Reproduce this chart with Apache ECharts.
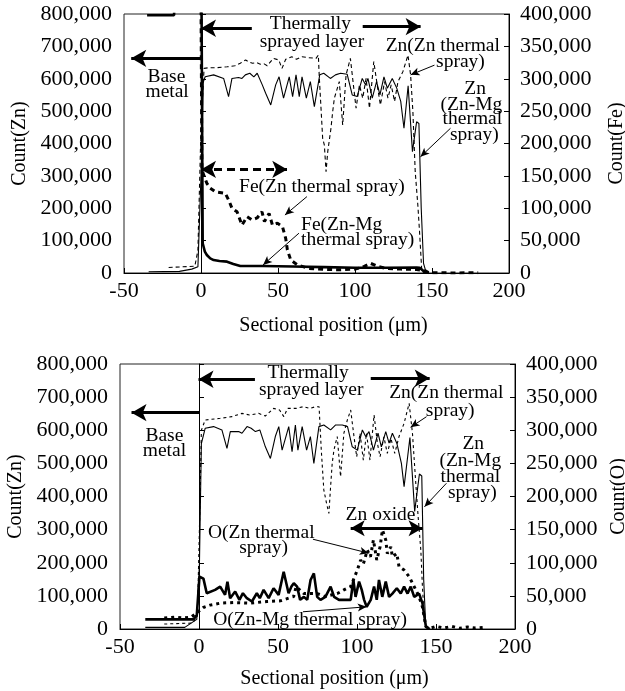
<!DOCTYPE html>
<html><head><meta charset="utf-8">
<script src="https://cdn.jsdelivr.net/npm/echarts@6/dist/echarts.min.js"></script>
<style>html,body{margin:0;padding:0;background:#fff}#c{width:625px;height:691px}</style>
</head><body><div id="c"></div>
<script>
// ---------- tick labels ----------
const xTickLabels = ['-50','0','50','100','150','200'];
const znTickLabels = ['0','100,000','200,000','300,000','400,000','500,000','600,000','700,000','800,000'];
const rightTickLabels = ['0','50,000','100,000','150,000','200,000','250,000','300,000','350,000','400,000'];

// ---------- top chart (Zn / Fe) ----------
const znZnTop = [[-21,17000],[-4,21000],[-2,70000],[0,450000],[2,632000],[5,634000],[10,634000],[17,637000],[22,640000],[25.5,648000],[29,658000],[31,652000],[33.5,648000],[36,650000],[38.5,645000],[41,646000],[43,640000],[47,663000],[50.5,658000],[52.6,632000],[55,660000],[59,668000],[62,660000],[65.6,668000],[70,665000],[74.7,663000],[76.2,673000],[76.8,606000],[79,416000],[80.1,395000],[81.2,313000],[82.3,375000],[84.4,447000],[85.5,498000],[86.6,540000],[89.8,591000],[92,457000],[94.2,612000],[97,663000],[99.2,571000],[100.7,509000],[102.9,581000],[105,540000],[107.2,601000],[109.4,509000],[112.2,653000],[114.4,581000],[116.5,519000],[119.2,591000],[121.4,540000],[123.5,581000],[125.7,530000],[127.9,591000],[131.1,622000],[134.4,673000],[136.1,612000],[137.6,498000],[139.1,313000],[140.8,210000],[141.9,128000],[143.4,4000],[146,0]];
const znMgTop = [[-34,4000],[-14,5000],[-6,12000],[-2,19500],[0,300000],[1.5,590000],[2.7,606000],[8.2,612000],[14.7,601000],[17.9,545000],[20.1,601000],[24.4,604000],[26.6,601000],[28.8,612000],[31.7,617000],[34.3,606000],[36.5,617000],[39.8,581000],[42,555000],[45.3,519000],[48.5,581000],[50.7,606000],[53.6,540000],[57.3,606000],[59.5,545000],[61.7,612000],[63.8,545000],[65.6,606000],[68.4,540000],[71,591000],[73.6,514000],[77.1,612000],[79.7,617000],[84,601000],[87.3,612000],[90.6,617000],[94.9,614000],[98.2,550000],[101.4,545000],[104.7,601000],[106.9,581000],[108.4,601000],[111.2,540000],[114,591000],[116.2,550000],[118.8,606000],[121,571000],[124.2,601000],[127.1,571000],[129.7,530000],[131.8,447000],[134.5,578000],[137.3,375000],[140,467000],[141.5,462000],[143,200000],[144.5,30000],[146,5000],[148,0]];
const feZnTop = [[-35,420000],[0,420000],[0.6,159000],[1.5,158000],[3.8,138500],[6,131000],[9.3,125500],[15.8,123000],[18,112500],[20.1,100000],[23.4,94500],[26.6,74000],[29.9,87000],[33.1,82000],[36.4,85000],[39.6,94500],[41.2,79500],[44.2,92000],[46.4,74000],[49.6,77000],[52.9,71500],[55,53500],[56.1,35500],[58.3,20000],[62.6,12500],[70,7000],[80,5500],[90,5000],[100,6000],[105,9000],[110,15000],[115,10000],[120,7000],[130,6000],[140,5500],[146,3000],[148,500],[155,500],[165,0],[180,500]];
const feMgTop = [[-35,398000],[-17.5,398000],[-17,440000],[0.3,440000],[1.1,46000],[2.5,33000],[3.8,27800],[6,22500],[8.2,20000],[12,18500],[16.9,17500],[21,14000],[25.5,10800],[40,10800],[60,10000],[80,9000],[100,8000],[120,8000],[140,8500],[142,8000],[145,2000],[148,0]];

// ---------- bottom chart (Zn / O) ----------
const znZnBot = [[-22,15000],[-4,18000],[-1,40000],[0.5,350000],[1.5,600000],[3.9,631000],[13.4,636000],[20.8,641000],[27.2,651000],[32,646000],[37.7,651000],[42,643000],[47.2,666000],[51,661000],[53.7,641000],[56,666000],[61.5,666000],[62.1,671000],[66,671000],[70,666000],[73.8,671000],[76,671000],[77.4,540000],[79,420000],[80.7,380000],[82.2,349000],[83.3,430000],[84.3,500000],[85.4,540000],[87.5,581000],[89.6,460000],[91.7,591000],[93.9,631000],[96,661000],[98.1,581000],[99.8,520000],[101.9,591000],[104,510000],[106,591000],[108.2,510000],[110.8,646000],[112.9,561000],[114.6,520000],[117,580000],[119.2,530000],[121.5,575000],[123.9,530000],[126.6,581000],[129.8,621000],[133,681000],[135.1,591000],[137.2,440000],[138.7,339000],[140.4,238000],[141.4,128000],[142.5,37000],[144,0]];
const znMgBot = [[-34,5000],[-9,5000],[-1.4,29000],[0.3,200000],[1.5,560000],[3.9,606000],[9.2,611000],[14.5,601000],[17.7,545000],[19.8,596000],[25.1,596000],[27.2,591000],[30.4,611000],[33,606000],[35.7,596000],[38.5,601000],[42,550000],[45.2,515000],[48.3,581000],[50.5,611000],[52.6,540000],[56.8,611000],[58.9,535000],[61,616000],[62.6,540000],[65.3,611000],[68.1,540000],[70.5,581000],[72.7,500000],[75.9,611000],[79,616000],[83.3,601000],[86.5,616000],[90.7,616000],[94,611000],[97,550000],[100.2,540000],[103.4,601000],[105.5,581000],[107.6,596000],[110.4,540000],[113.3,591000],[115.4,550000],[118.2,596000],[120.3,561000],[122.4,591000],[125.2,561000],[128.1,500000],[129.8,430000],[133.5,578000],[136.5,355000],[139.5,468000],[141,462000],[142.2,150000],[143.5,10000],[145,0]];
const oZnBot = [[-22,16500],[-15,18000],[-10,16500],[-5,18000],[-1.4,24000],[0.5,28000],[2.8,32500],[7,36000],[13.4,39000],[21.8,40000],[32.4,39000],[43,41500],[51.5,42500],[59.9,49000],[61.5,64000],[66.4,53500],[74.8,53500],[80,49000],[87.5,53500],[91.7,59000],[96,64000],[100.2,89000],[102.3,104000],[104,98000],[106.5,119000],[108.5,109000],[110.4,134500],[112.5,104000],[114.6,124000],[116.1,149500],[118.2,134500],[119.2,114000],[121.4,124000],[122.4,109000],[125.2,114000],[126.6,94000],[129.8,89000],[133,79000],[136.2,64000],[139.3,48500],[141.4,33500],[143.6,3500],[146,1000],[150,4000],[155,1500],[160,4000],[165,1000],[170,3000],[175,1500],[180,2500]];
const oMgBot = [[-34,14500],[-3.5,14500],[-1.4,21000],[0.3,79000],[2.8,76000],[4.9,54000],[10.2,59000],[13.4,64000],[16.5,51500],[18,71500],[19.7,46500],[22.9,56500],[25.6,44000],[27.8,54000],[30.3,46500],[33.5,41500],[36.6,54000],[38.5,46500],[40.9,59000],[44.1,46500],[47.2,61500],[50.4,51500],[53.6,86500],[56.7,54000],[58.5,64000],[60,69000],[62.1,64000],[64,44000],[66.4,48500],[68.5,44000],[70.6,74000],[72.7,84000],[74.8,48500],[76.9,44000],[80,48500],[83.3,64000],[85.5,48500],[88.6,44000],[93.9,44000],[96,44000],[97.7,74000],[99.1,48500],[101.3,71500],[103,59000],[104.5,44000],[106.1,33500],[108.7,44000],[110.8,64000],[112.5,44000],[113.9,74000],[116,48500],[118.2,71500],[120.3,48500],[122.4,53500],[125.2,61500],[127.7,53500],[129.8,64000],[132,53500],[134,64000],[136.2,48500],[139.3,53500],[141.4,39000],[143.6,3500],[146,0]];

// ---------- annotations (data coordinates on left axis) ----------
const topTexts = [['Thermally',71,768000,'center'],['sprayed layer',72,714000,'center'],['Base',-22.5,606000,'center'],['metal',-22,560000,'center'],['Zn(Zn thermal',157,702000,'center'],['spray)',168.5,652000,'center'],['Zn',178,570000,'center'],['(Zn-Mg',175.6,519000,'center'],['thermal',176.2,475000,'center'],['spray)',177.5,426000,'center'],['Fe(Zn thermal spray)',78.5,267000,'center'],['Fe(Zn-Mg',65,148000,'left'],['thermal spray)',65,102000,'left']];
const topThick = [[[33,756000],[0,756000]],[[105,761000],[142.6,761000]],[[0,663000],[-45.3,663000]]];
const topDashedDouble = [[[0,320000],[56,320000]]];
const topThin = [[[151.6,642000],[136.1,612000]],[[162,447000],[142.5,359000]],[[68.8,236000],[54.5,179000]],[[63.6,123000],[40.3,25000]]];

const botTexts = [['Thermally',69,772000,'center'],['sprayed layer',71,722000,'center'],['Base',-21.9,583000,'center'],['metal',-21.9,537000,'center'],['Zn(Zn thermal',156.5,713000,'center'],['spray)',159,659000,'center'],['Zn',173.6,558000,'center'],['(Zn-Mg',171.7,508000,'center'],['thermal',171.7,460000,'center'],['spray)',173,411000,'center'],['Zn oxide',114.9,344000,'center'],['O(Zn thermal',39.4,291000,'center'],['spray)',40.9,244000,'center'],['O(Zn-Mg thermal spray)',70.3,29000,'center']];
const botThick = [[[35.4,754000],[-0.3,754000]],[[108.7,757000],[146,757000]],[[0.5,653000],[-42.7,653000]]];
const botSolidDouble = [[[96,304000],[141.5,304000]]];
const botThin = [[[144,641000],[133.9,609000]],[[156.6,440000],[142.7,369000]],[[72.1,271000],[107.4,229000]],[[65.8,52000],[106.1,67000]]];

// ---------- chart ----------
const FONT = '"Liberation Serif","Times New Roman",serif';
const TICK = 22, NAME = 20, ANN = 19.5;
const chart = echarts.init(document.getElementById('c'));
const grids = [
  {left:124, top:14, width:385, height:259, show:true, borderColor:'#222', borderWidth:1, backgroundColor:'transparent', containLabel:false, outerBoundsMode:'none'},
  {left:120, top:364, width:395, height:265, show:true, borderColor:'#222', borderWidth:1, backgroundColor:'transparent', containLabel:false, outerBoundsMode:'none'}
];
function xAxisCfg(g){
  return {type:'value', gridIndex:g, min:-50, max:200, interval:50,
    axisLine:{show:true, onZero:false, lineStyle:{color:'#000', width:1}},
    axisTick:{show:true, inside:true, length:5, lineStyle:{color:'#000'}},
    axisLabel:{color:'#000', fontFamily:FONT, fontSize:TICK, margin:7,
      formatter:(v)=>xTickLabels[Math.round((v+50)/50)]},
    splitLine:{show:false},
    name:'Sectional position (\u03bcm)', nameLocation:'middle', nameGap:g===0?43:40,
    nameTextStyle:{color:'#000', fontFamily:FONT, fontSize:NAME, padding:[0,0,0,34]}};
}
function yLeft(g){
  return {type:'value', gridIndex:g, min:0, max:800000, interval:100000, position:'left',
    axisLine:{show:true, lineStyle:{color:'#000'}},
    axisTick:{show:true, inside:true, length:5, lineStyle:{color:'#000'}},
    axisLabel:{color:'#000', fontFamily:FONT, fontSize:TICK, margin:12,
      formatter:(v)=>znTickLabels[Math.round(v/100000)]},
    splitLine:{show:false},
    name:'Count(Zn)', nameLocation:'middle', nameGap:94, nameRotate:90,
    nameTextStyle:{color:'#000', fontFamily:FONT, fontSize:NAME}};
}
function yRight(g, nm){
  return {type:'value', gridIndex:g, min:0, max:400000, interval:50000, position:'right',
    axisLine:{show:true, lineStyle:{color:'#000'}},
    axisTick:{show:true, inside:true, length:5, lineStyle:{color:'#000'}},
    axisLabel:{color:'#000', fontFamily:FONT, fontSize:TICK, margin:11,
      formatter:(v)=>rightTickLabels[Math.round(v/50000)]},
    splitLine:{show:false},
    name:nm, nameLocation:'middle', nameGap:g===0?98:92, nameRotate:90,
    nameTextStyle:{color:'#000', fontFamily:FONT, fontSize:NAME}};
}
function lineS(g, yi, data, width, type, z){
  return {type:'line', xAxisIndex:g, yAxisIndex:yi, data:data, showSymbol:false, symbol:'none',
    silent:true, z:z||2, lineStyle:{color:'#000', width:width, type:type}};
}
function arrowS(g, arrows, width, type, symbols, size){
  return {type:'line', xAxisIndex:g, yAxisIndex:2*g, data:[arrows[0][0]], showSymbol:false, symbol:'none',
    silent:true, z:5, lineStyle:{opacity:0},
    markLine:{silent:true, animation:false, symbol:symbols, symbolSize:size, precision:6,
      label:{show:false}, emphasis:{disabled:true},
      lineStyle:{color:'#000', width:width, type:type},
      data:arrows.map(a=>[{coord:a[0]},{coord:a[1]}])}};
}
const option = {
  animation:false,
  backgroundColor:'#fff',
  grid:grids,
  xAxis:[xAxisCfg(0), xAxisCfg(1)],
  yAxis:[yLeft(0), yRight(0,'Count(Fe)'), yLeft(1), yRight(1,'Count(O)')],
  series:[
    lineS(0,0,znZnTop,1.1,[4,3]),
    lineS(0,0,znMgTop,1.1,'solid'),
    lineS(0,1,feZnTop,3,[5,4],3),
    lineS(0,1,feMgTop,2.6,'solid',3),
    lineS(1,2,znZnBot,1.1,[3,3]),
    lineS(1,2,znMgBot,1.1,'solid'),
    lineS(1,3,oZnBot,3,[3,4],3),
    lineS(1,3,oMgBot,2.6,'solid',3),
    arrowS(0, topThick, 3, 'solid', ['none','arrow'], [13,15]),
    arrowS(0, topDashedDouble, 3, [8,5], ['arrow','arrow'], [13,15]),
    arrowS(0, topThin, 1, 'solid', ['none','arrow'], [6,9]),
    arrowS(1, botThick, 3, 'solid', ['none','arrow'], [13,15]),
    arrowS(1, botSolidDouble, 3, 'solid', ['arrow','arrow'], [12,14]),
    arrowS(1, botThin, 1, 'solid', ['none','arrow'], [6,9])
  ]
};
chart.setOption(option);

function textEls(g, texts){
  return texts.map(t=>{
    const p = chart.convertToPixel({xAxisIndex:g, yAxisIndex:2*g}, [t[1], t[2]]);
    return {type:'text', x:p[0], y:p[1], silent:true, z:10,
      style:{text:t[0], fill:'#000', fontFamily:FONT, fontSize:ANN, align:t[3], verticalAlign:'middle',
             textAlign:t[3], textVerticalAlign:'middle'}};
  });
}
chart.setOption({graphic:[].concat(textEls(0, topTexts), textEls(1, botTexts))});
</script>
</body></html>
